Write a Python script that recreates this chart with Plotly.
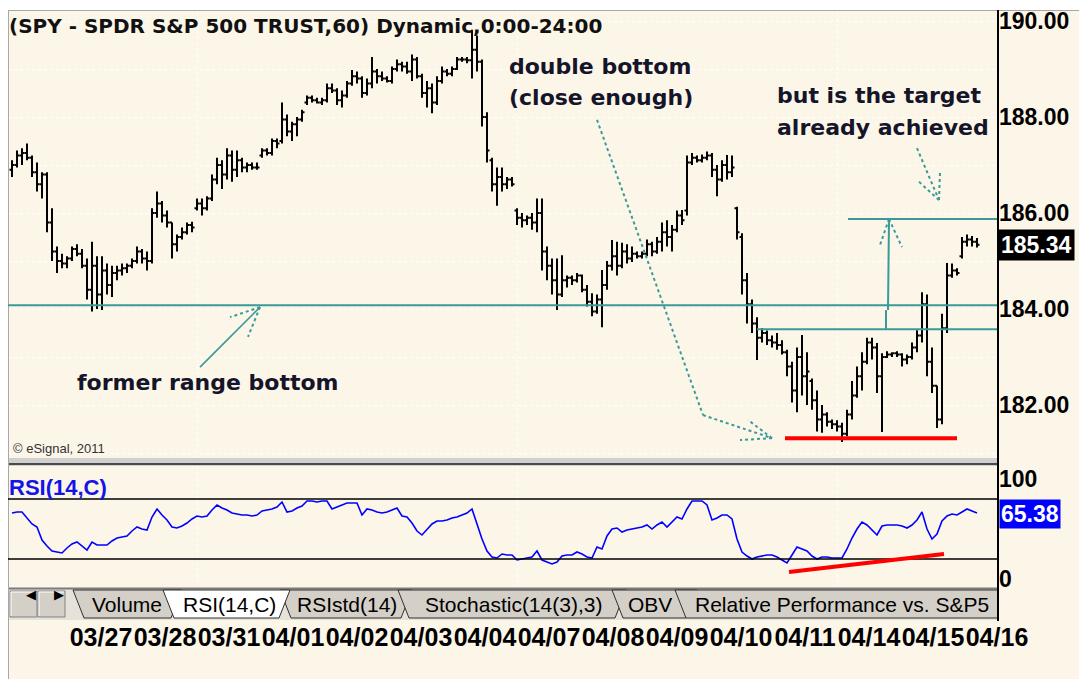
import plotly.graph_objects as go

W, H = 1087, 679

# ---------------- data ----------------
bar_open = [
    186.90, 187.00, 187.20, 187.25, 187.15, 186.85, 186.60, 186.80, 185.80, 185.20,
    185.00, 184.95, 185.05, 185.25, 185.15, 184.90, 184.40, 184.90, 184.30, 184.80,
    184.50, 184.75, 184.80, 184.85, 184.90, 185.00, 185.20, 185.05, 185.00, 186.00,
    186.20, 185.95, 185.80, 185.35, 185.50, 185.60, 185.75, 186.10, 186.20, 186.10,
    186.30, 186.70, 187.00, 186.80, 187.20, 186.90, 187.10, 186.95, 187.00, 186.95,
    187.20, 187.30, 187.25, 187.50, 187.50, 187.95, 187.70, 187.85, 187.95, 188.30,
    188.40, 188.35, 188.30, 188.35, 188.60, 188.55, 188.35, 188.45, 188.70, 188.85,
    188.80, 188.50, 188.70, 188.95, 188.85, 188.80, 188.75, 189.00, 189.10, 189.05,
    188.95, 189.20, 188.85, 188.50, 188.60, 188.30, 188.75, 188.95, 188.90, 189.00,
    189.20, 189.20, 189.18, 189.40, 189.15, 188.00, 187.10, 186.60, 186.75, 186.60,
    186.70, 186.05, 185.90, 185.85, 185.90, 185.80, 186.00, 185.20, 184.90, 184.60,
    184.30, 184.60, 184.65, 184.60, 184.70, 184.40, 184.15, 183.95, 184.20, 184.50,
    184.90, 185.10, 184.90, 185.20, 185.05, 185.15, 185.10, 185.15, 185.35, 185.20,
    185.40, 185.60, 185.50, 185.65, 185.95, 186.05, 187.05, 187.15, 187.10, 187.15,
    187.20, 186.90, 186.70, 187.00, 186.85, 186.10, 185.50, 184.60, 184.10, 183.70,
    183.40, 183.50, 183.35, 183.30, 183.25, 183.10, 182.80, 182.30, 183.00, 182.60,
    182.50, 182.10, 181.70, 181.80, 181.65, 181.60, 181.55, 181.40, 181.80, 182.20,
    182.60, 182.90, 183.30, 183.20, 182.60, 183.00, 183.05, 183.08, 183.05, 182.95,
    183.00, 183.20, 183.45, 184.10, 182.90, 182.40, 181.70, 183.60, 184.70, 184.80,
    185.10, 185.40, 185.45, 185.40,
]
bar_high = [
    187.10, 187.30, 187.35, 187.45, 187.20, 187.05, 186.85, 186.85, 186.10, 185.30,
    185.15, 185.10, 185.30, 185.35, 185.25, 185.05, 185.40, 185.10, 185.10, 184.95,
    184.90, 184.90, 184.95, 184.95, 185.05, 185.30, 185.25, 185.20, 186.10, 186.45,
    186.25, 186.05, 185.80, 185.55, 185.70, 185.80, 185.82, 186.30, 186.30, 186.35,
    186.80, 187.15, 187.10, 187.35, 187.30, 187.30, 187.15, 187.05, 187.05, 187.05,
    187.35, 187.35, 187.55, 187.55, 188.30, 188.05, 187.90, 188.00, 188.15, 188.45,
    188.45, 188.40, 188.40, 188.70, 188.70, 188.60, 188.55, 188.75, 188.98, 188.95,
    188.85, 188.80, 189.25, 189.00, 188.95, 188.85, 189.05, 189.20, 189.15, 189.15,
    189.30, 189.25, 188.90, 188.75, 188.70, 188.85, 189.05, 189.00, 189.05, 189.25,
    189.25, 189.25, 189.82, 189.70, 189.20, 188.10, 187.15, 186.95, 186.95, 186.75,
    186.75, 186.10, 186.00, 185.95, 186.00, 186.30, 186.30, 185.30, 185.05, 185.05,
    185.12, 184.70, 184.70, 184.75, 184.72, 184.50, 184.33, 184.30, 184.81, 185.00,
    185.44, 185.40, 185.38, 185.35, 185.30, 185.20, 185.20, 185.45, 185.40, 185.50,
    185.80, 185.85, 185.75, 186.05, 186.06, 187.20, 187.25, 187.20, 187.22, 187.28,
    187.25, 187.00, 187.10, 187.21, 187.20, 186.13, 185.58, 184.75, 184.20, 183.83,
    183.60, 183.55, 183.45, 183.50, 183.35, 183.15, 182.90, 183.20, 183.46, 183.10,
    182.55, 182.30, 182.00, 181.85, 181.70, 181.68, 181.63, 181.90, 182.50, 182.80,
    183.10, 183.40, 183.40, 183.29, 183.08, 183.12, 183.10, 183.12, 183.08, 183.05,
    183.30, 183.56, 184.35, 184.30, 183.20, 182.40, 183.90, 184.96, 184.95, 184.85,
    185.50, 185.55, 185.52, 185.48,
]
bar_low = [
    186.75, 186.95, 187.00, 187.10, 186.75, 186.45, 186.30, 185.60, 185.00, 184.75,
    184.85, 184.85, 185.00, 185.10, 184.85, 184.20, 183.95, 184.00, 183.98, 184.30,
    184.25, 184.60, 184.70, 184.75, 184.85, 184.95, 184.95, 184.80, 184.95, 185.90,
    185.80, 185.70, 185.05, 185.20, 185.45, 185.55, 185.60, 186.05, 185.95, 186.05,
    186.25, 186.60, 186.50, 186.70, 186.65, 186.75, 186.85, 186.85, 186.90, 186.90,
    187.15, 187.20, 187.20, 187.35, 187.45, 187.60, 187.50, 187.60, 187.90, 188.25,
    188.30, 188.28, 188.25, 188.30, 188.50, 188.25, 188.20, 188.40, 188.65, 188.70,
    188.40, 188.45, 188.60, 188.70, 188.75, 188.72, 188.70, 188.95, 188.95, 188.90,
    188.75, 188.80, 188.40, 188.20, 188.08, 188.25, 188.70, 188.85, 188.85, 188.98,
    189.15, 189.12, 188.80, 188.95, 187.80, 187.05, 186.45, 186.15, 186.45, 186.50,
    186.55, 185.75, 185.70, 185.75, 185.65, 185.60, 184.80, 184.60, 184.30, 183.98,
    184.25, 184.45, 184.50, 184.55, 184.35, 184.05, 183.85, 183.90, 183.62, 184.40,
    184.80, 184.70, 184.85, 184.95, 184.98, 185.05, 185.05, 185.10, 185.10, 185.15,
    185.20, 185.30, 185.20, 185.60, 185.75, 185.95, 187.00, 187.05, 187.05, 187.10,
    186.75, 186.35, 186.65, 186.70, 186.75, 185.45, 184.30, 183.70, 183.50, 182.94,
    183.30, 183.25, 183.20, 183.15, 183.05, 182.60, 182.05, 181.85, 182.20, 182.00,
    181.90, 181.45, 181.42, 181.55, 181.50, 181.45, 181.23, 181.35, 181.70, 182.15,
    182.30, 182.85, 182.95, 182.25, 181.44, 182.98, 183.00, 183.00, 182.80, 182.85,
    182.95, 183.10, 183.30, 182.60, 182.25, 181.52, 181.60, 183.50, 184.65, 184.70,
    185.05, 185.30, 185.30, 185.28,
]
bar_close = [
    187.00, 187.20, 187.25, 187.15, 186.85, 186.60, 186.80, 185.80, 185.20, 185.00,
    184.95, 185.05, 185.25, 185.15, 184.90, 184.40, 184.90, 184.30, 184.80, 184.50,
    184.75, 184.80, 184.85, 184.90, 185.00, 185.20, 185.05, 185.00, 186.00, 186.20,
    185.95, 185.80, 185.35, 185.50, 185.60, 185.75, 185.70, 186.20, 186.10, 186.30,
    186.70, 187.00, 186.80, 187.20, 186.90, 187.10, 186.95, 187.00, 186.95, 186.95,
    187.30, 187.25, 187.50, 187.45, 187.95, 187.70, 187.85, 187.95, 188.10, 188.40,
    188.35, 188.30, 188.35, 188.60, 188.55, 188.35, 188.45, 188.70, 188.85, 188.80,
    188.50, 188.70, 188.95, 188.85, 188.80, 188.75, 189.00, 189.10, 189.05, 188.95,
    189.20, 188.85, 188.50, 188.60, 188.30, 188.75, 188.95, 188.90, 189.00, 189.20,
    189.20, 189.18, 189.40, 189.15, 188.00, 187.30, 186.60, 186.75, 186.60, 186.70,
    186.60, 185.90, 185.85, 185.90, 185.80, 186.00, 185.20, 184.90, 184.60, 184.30,
    184.60, 184.65, 184.60, 184.70, 184.40, 184.15, 183.95, 184.20, 184.50, 184.90,
    185.10, 184.90, 185.20, 185.05, 185.15, 185.10, 185.15, 185.35, 185.20, 185.40,
    185.60, 185.50, 185.65, 185.95, 185.85, 187.05, 187.15, 187.10, 187.15, 187.20,
    186.90, 186.70, 187.00, 186.85, 186.95, 185.60, 184.60, 184.10, 183.70, 183.40,
    183.50, 183.35, 183.30, 183.25, 183.10, 182.80, 182.30, 183.00, 182.60, 182.70,
    182.10, 181.70, 181.80, 181.65, 181.60, 181.55, 181.40, 181.80, 182.20, 182.60,
    182.90, 183.30, 183.20, 182.60, 183.00, 183.05, 183.08, 183.05, 182.95, 183.00,
    183.20, 183.45, 184.10, 182.90, 182.40, 181.70, 183.60, 184.70, 184.80, 184.75,
    185.40, 185.45, 185.40, 185.34,
]
rsi_values = [
    66, 67, 67, 61, 55, 52, 39, 33, 28, 27,
    26, 31, 35, 37, 33, 29, 37, 34, 34, 34,
    38, 41, 42, 43, 48, 52, 50, 49, 62, 70,
    64, 59, 52, 51, 53, 56, 60, 63, 62, 63,
    69, 74, 71, 69, 66, 65, 64, 64, 63, 64,
    68, 69, 70, 72, 77, 67, 68, 71, 73, 78,
    78, 77, 78, 78, 70, 72, 74, 76, 76, 76,
    64, 70, 69, 67, 66, 67, 69, 71, 63, 62,
    56, 48, 44, 49, 55, 58, 58, 59, 61, 62,
    64, 66, 70, 55, 40, 28, 22, 21, 25, 24,
    24, 19, 20, 21, 22, 28, 19, 17, 15, 17,
    23, 24, 24, 27, 25, 22, 21, 32, 30, 43,
    50, 51, 47, 49, 50, 51, 52, 54, 50, 54,
    57, 52, 57, 62, 60, 70, 78, 78, 78, 74,
    59, 61, 64, 64, 60, 40, 27, 23, 20, 22,
    23, 24, 24, 22, 19, 16, 24, 32, 30, 28,
    23, 20, 22, 22, 21, 21, 21, 30, 41, 50,
    57, 54, 49, 44, 53, 54, 54, 54, 53, 51,
    54, 59, 67, 50, 40, 45, 58, 63, 65, 64,
    67, 70, 68, 66,
]
day_labels = ["03/27", "03/28", "03/31", "04/01", "04/02", "04/03", "04/04", "04/07",
              "04/08", "04/09", "04/10", "04/11", "04/14", "04/15", "04/16"]
day_start_bar = [11.4, 24.2, 37.0, 49.8, 62.6, 75.4, 88.2, 101.0,
                 113.8, 126.6, 139.4, 152.2, 165.0, 177.8, 190.6]
week_start_bar = [37.0, 101.0, 165.0]
price_grid = [181, 182, 183, 184, 185, 186, 187, 188, 189, 190]
price_labels = [182, 184, 186, 188, 190]
rsi_levels = [80, 20]
rsi_labels = [0, 100]
last_price = 185.34
last_rsi = 65.38
former_range_bottom = 184.08
neckline = 183.58
target_level = 185.875
double_bottom_low = 181.31
tab_names = ["Volume", "RSIstd(14)", "Stochastic(14(3),3)", "OBV",
             "Relative Performance vs. S&P5", "RSI(14,C)"]

# ---------------- styling / layout helpers ----------------
CREAM = "#FCF6E9"
TEAL = "#3A9A9A"
INK = "#15152A"
BLUE = "#0000FF"
TAB_GRAY = "#D4D0C8"
OFF = 8  # the page places the figure 8px in from the top-left corner


def px(x):
    return (x - OFF) / W


def py(y):
    return 1 - (y - OFF) / H


idx = list(range(len(bar_close)))
XR = [-0.8, 197.2]
XDOM = [px(8), px(998)]

fig = go.Figure()
fig.add_trace(go.Ohlc(
    x=idx, open=bar_open, high=bar_high, low=bar_low, close=bar_close,
    increasing=dict(line=dict(color="black", width=2)),
    decreasing=dict(line=dict(color="black", width=2)),
    tickwidth=0.5, xaxis="x", yaxis="y", hoverinfo="skip", showlegend=False))
fig.add_trace(go.Scatter(
    x=idx, y=rsi_values, mode="lines", line=dict(color=BLUE, width=1.6),
    xaxis="x2", yaxis="y2", hoverinfo="skip", showlegend=False))
fig.add_trace(go.Scatter(x=[None], y=[None], xaxis="x3", yaxis="y3",
                         showlegend=False, hoverinfo="skip"))

grid_x = dict(showgrid=True, gridcolor="white", griddash="dot", gridwidth=1,
              zeroline=False, showticklabels=False, ticks="", showline=False,
              tickvals=week_start_bar, range=XR, domain=XDOM, automargin=False)
axis_font = dict(family="Arial", size=23, color="black", weight="bold")

shapes = []


def seg(x0, y0, x1, y1, color=TEAL, width=2, dash="solid", xref="x", yref="y"):
    shapes.append(dict(type="line", x0=x0, y0=y0, x1=x1, y1=y1, xref=xref, yref=yref,
                       line=dict(color=color, width=width, dash=dash)))


def prect(x0, y0, x1, y1, fill, line_color=None, lw=0):
    shapes.append(dict(type="rect", xref="paper", yref="paper",
                       x0=px(x0), x1=px(x1), y0=py(y1), y1=py(y0),
                       fillcolor=fill, line=dict(color=line_color or fill, width=lw)))


def pline(x0, y0, x1, y1, color, width=1):
    seg(px(x0), py(y0), px(x1), py(y1), color=color, width=width, xref="paper", yref="paper")


# frame pieces
prect(8, 8, W + 8, 10, "white")
pline(8, 10.5, W + 8, 10.5, "#A8A8A8", 1)
pline(8.5, 10, 8.5, H + 8, "#A8A8A8", 1)
prect(9, 458, 998, 466, "#CFCFCF")
pline(9, 464, 998, 464, "#4A4A4A", 2)

# RSI reference levels
for lv in rsi_levels:
    seg(0, lv, 1, lv, color="black", width=1.5, xref="x2 domain", yref="y2")

# horizontal studies on price pane
seg(0, former_range_bottom, 1, former_range_bottom, xref="x domain")
seg(149.0, neckline, XR[1], neckline)
seg(167.2, target_level, XR[1], target_level)
seg(154.6, double_bottom_low, 189.0, double_bottom_low, color="#FF0000", width=4)
seg(155.4, 7, 186.4, 25, color="#FF0000", width=4, xref="x2", yref="y2")

# arrow: former range bottom
seg(37.6, 182.79, 49.6, 184.04, width=1.6)
seg(49.6, 184.04, 43.6, 183.83, width=2, dash="dot")
seg(49.6, 184.04, 47.2, 183.42, width=2, dash="dot")
# arrow: double bottom
seg(117.0, 187.94, 138.2, 181.79, width=2, dash="dot")
seg(138.2, 181.79, 152.0, 181.31, width=2, dash="dot")
seg(152.0, 181.31, 147.2, 181.69, width=2, dash="dot")
seg(152.0, 181.31, 145.6, 181.27, width=2, dash="dot")
# arrow: target
seg(181.0, 187.35, 185.4, 186.27, width=2, dash="dot")
seg(185.4, 186.27, 185.6, 186.85, width=2, dash="dot")
seg(185.4, 186.27, 181.4, 186.65, width=2, dash="dot")
# vertical measured-move arrow
seg(174.8, neckline, 174.8, 183.98, width=2)
seg(175.2, 183.98, 175.4, target_level, width=2)
seg(175.4, target_level, 173.6, 185.33, width=2, dash="dot")
seg(175.4, target_level, 178.0, 185.29, width=2, dash="dot")

# tab row
prect(9, 588, 998, 620, "#E6E2DA")
pline(9, 588.5, 998, 588.5, "#7A7A7A", 2)
# scroll buttons
for bx in (10, 38):
    prect(bx, 591, bx + 27, 617, TAB_GRAY, "#808080", 1)
    pline(bx + 1, 592, bx + 26, 592, "white", 1)
    pline(bx + 1, 592, bx + 1, 616, "white", 1)

tab_geom = {
    "Volume": (73, 182, 127),
    "RSIstd(14)": (280, 412, 347),
    "Stochastic(14(3),3)": (398, 626, 513),
    "OBV": (612, 697, 650),
    "Relative Performance vs. S&P5": (675, 1012, 842),
    "RSI(14,C)": (163, 290, 229),
}
annotations = []
for name in tab_names:
    a, b, cx = tab_geom[name]
    active = name == "RSI(14,C)"
    top, bot, d = 590, 618, 11
    bb = min(b, 998)
    x_br = min(b - d, 998)
    path = (f"M {px(a)},{py(top)} L {px(bb)},{py(top)} L {px(x_br)},{py(bot)} "
            f"L {px(a + d)},{py(bot)} Z")
    shapes.append(dict(type="path", path=path, xref="paper", yref="paper",
                       fillcolor="white" if active else TAB_GRAY,
                       line=dict(color="#303030", width=1)))
    annotations.append(dict(text=name, x=px(cx), y=py(604), xref="paper", yref="paper",
                            showarrow=False, xanchor="center", yanchor="middle",
                            font=dict(family="Arial", size=21, color="black")))
annotations.append(dict(text="◀", x=px(23.5), y=py(604), xref="paper", yref="paper",
                        showarrow=False, font=dict(family="DejaVu Sans", size=13, color="black")))
annotations.append(dict(text="▶", x=px(51.5), y=py(604), xref="paper", yref="paper",
                        showarrow=False, font=dict(family="DejaVu Sans", size=13, color="black")))

# right axis line spanning both panes
pline(998, 10, 998, 621, "black", 2)

# ---------------- text ----------------
ann_font = dict(family="DejaVu Sans", size=22, color=INK, weight="bold")


def txt(s, x, y, font, anchor="left"):
    annotations.append(dict(text=s, x=px(x), y=py(y), xref="paper", yref="paper",
                            showarrow=False, xanchor=anchor, yanchor="middle", font=font))


txt("(SPY - SPDR S&P 500 TRUST,60) Dynamic,0:00-24:00", 7, 26,
    dict(family="DejaVu Sans", size=20, color="#111111", weight="bold"))
txt("double bottom", 507, 66, ann_font)
txt("(close enough)", 507, 98, ann_font)
txt("but is the target", 775, 96, ann_font)
txt("already achieved", 775, 127, ann_font)
txt("former range bottom", 75, 382, ann_font)
txt("© eSignal, 2011", 11, 448, dict(family="Arial", size=13, color="#333333"))
txt("RSI(14,C)", 7, 487, dict(family="Arial", size=22, color="#1414E6", weight="bold"))

annotations.append(dict(text=f"{last_price:.2f}", x=px(998), y=last_price, xref="paper", yref="y",
                        xanchor="left", yanchor="middle", showarrow=False, bgcolor="black",
                        borderpad=2, font=dict(family="Arial", size=23, color="white", weight="bold")))
annotations.append(dict(text=f"{last_rsi:.2f}", x=px(999), y=last_rsi, xref="paper", yref="y2",
                        xanchor="left", yanchor="middle", showarrow=False, bgcolor=BLUE,
                        borderpad=1, font=dict(family="Arial", size=23, color="white", weight="bold")))

fig.update_layout(
    width=W, height=H, margin=dict(l=0, r=0, t=0, b=0, autoexpand=False),
    paper_bgcolor=CREAM, plot_bgcolor=CREAM, showlegend=False, hovermode=False,
    xaxis=dict(anchor="y", rangeslider=dict(visible=False), **grid_x),
    yaxis=dict(domain=[py(458), py(12)], range=[180.896, 190.1875], anchor="x", side="right",
               tickvals=price_grid,
               ticktext=[f"{v:.2f}" if v in price_labels else "" for v in price_grid],
               tickfont=axis_font, showgrid=True, gridcolor="white", griddash="dot",
               zeroline=False, ticks="", showline=False, automargin=False),
    xaxis2=dict(anchor="y2", **grid_x),
    yaxis2=dict(domain=[py(588), py(466)], range=[-9, 113], anchor="x2", side="right",
                tickvals=rsi_labels, tickfont=axis_font, showgrid=False,
                zeroline=False, ticks="", showline=False, automargin=False),
    xaxis3=dict(domain=XDOM, range=XR, anchor="y3", showgrid=False, zeroline=False,
                showline=False, ticks="", tickangle=0, automargin=False,
                tickvals=[s + 6.4 for s in day_start_bar], ticktext=day_labels,
                tickfont=dict(family="Arial", size=25, color="black", weight="bold")),
    yaxis3=dict(domain=[py(620), py(619)], visible=False, automargin=False),
    shapes=shapes, annotations=annotations,
)

fig.write_html("out.html")
